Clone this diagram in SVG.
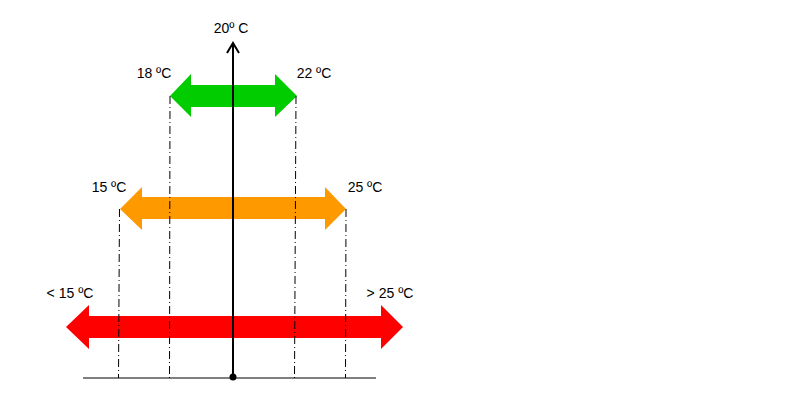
<svg xmlns="http://www.w3.org/2000/svg" width="798" height="400" viewBox="0 0 798 400">
<style>
text{font-family:"Liberation Sans",Arial,sans-serif;font-size:14px;fill:#000}
.dd{stroke:#000;stroke-width:1;stroke-dasharray:8 3 1 3;fill:none}
</style>
<rect width="798" height="400" fill="#fff"/>
<g id="red-arrow"><polygon fill="#ff0000" points="66,327 89,305 89,316 381,316 381,305 403,327 381,349 381,338 89,338 89,349"/></g>
<g id="orange-arrow"><polygon fill="#ff9900" points="120,209 142,187 142,197 325,197 325,187 346,209 325,230 325,219 142,219 142,230"/></g>
<g id="green-arrow"><polygon fill="#00cc00" points="170,96 191,74 191,85 275,85 275,74 297,96 275,117 275,107 191,107 191,117"/></g>
<g id="connectors">
<line class="dd" x1="119.5" y1="209" x2="118.5" y2="378"/>
<line class="dd" x1="170" y1="96" x2="169.5" y2="378"/>
<line class="dd" x1="296" y1="96" x2="294.5" y2="378"/>
<line class="dd" x1="346" y1="209" x2="345.5" y2="378"/>
<line x1="83" y1="378" x2="376" y2="378" stroke="#000" stroke-width="1.2"/>
<line x1="233" y1="377" x2="233" y2="43" stroke="#000" stroke-width="2"/>
<polyline points="227,53 233,43 239,53" fill="none" stroke="#000" stroke-width="2"/>
<circle cx="233" cy="377" r="3.5" fill="#000"/>
</g>
<g id="labels">
<text x="231" y="33" text-anchor="middle">20º C</text>
<text x="154" y="78" text-anchor="middle">18 ºC</text>
<text x="314" y="78" text-anchor="middle">22 ºC</text>
<text x="109" y="192" text-anchor="middle">15 ºC</text>
<text x="365" y="192" text-anchor="middle">25 ºC</text>
<text x="70" y="298" text-anchor="middle">&lt; 15 ºC</text>
<text x="390" y="298" text-anchor="middle">&gt; 25 ºC</text>
</g>
</svg>
